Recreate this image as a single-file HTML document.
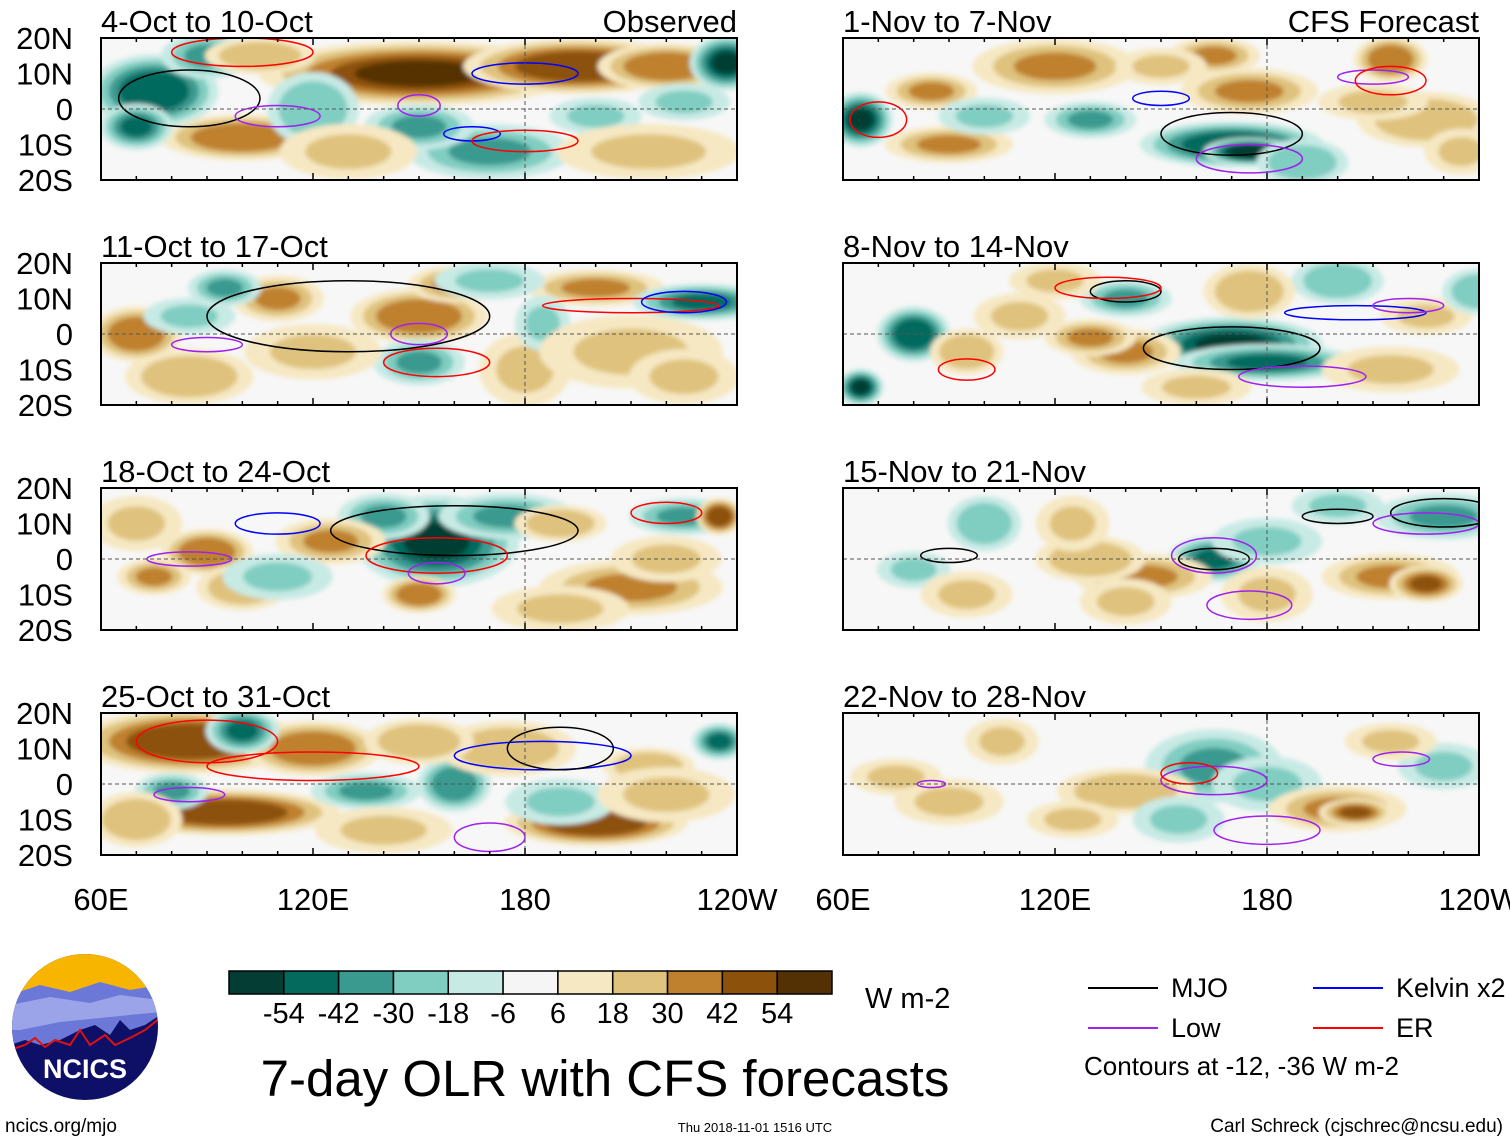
<!DOCTYPE html>
<html><head><meta charset="utf-8"><style>
body{margin:0;background:#fff;width:1510px;height:1142px;overflow:hidden;font-family:"Liberation Sans",sans-serif}
svg{position:absolute;left:0;top:0}
</style></head><body>
<svg id="s" width="1510" height="1142" viewBox="0 0 1510 1142">
<defs><filter id="bl" x="-20%" y="-20%" width="140%" height="140%"><feGaussianBlur stdDeviation="2.5"/></filter>
<clipPath id="cb"><circle cx="85" cy="1027" r="73"/></clipPath></defs>
</svg>
<script>
const NS='http://www.w3.org/2000/svg';
const svg=document.getElementById('s');
const levels=[-54,-42,-30,-18,-6,6,18,30,42,54];
const colors=['#033d33','#046a5e','#3a9a90','#80cdc1','#c7eae5','#f5f5f5','#f6e8c3','#dfc27d','#bf812d','#8c510a','#543005'];
const panelTitles=['4-Oct to 10-Oct','11-Oct to 17-Oct','18-Oct to 24-Oct','25-Oct to 31-Oct','1-Nov to 7-Nov','8-Nov to 14-Nov','15-Nov to 21-Nov','22-Nov to 28-Nov'];
const latTicks=[20,10,0,-10,-20];
const latLabels=['20N','10N','0','10S','20S'];
const lonTicks=[60,120,180,240];
const lonLabels=['60E','120E','180','120W'];
// anomaly blobs per panel: [lon, lat, halfwidthLon, halfwidthLat, value W m-2]
const blobs0=[[150,10,35,7,50],[195,12,25,6,45],[220,12,15,5,35],[100,-8,18,5,35],[75,5,14,8,-45],[70,-5,8,5,-40],[237,13,8,6,-50],[170,-12,18,6,-30],[150,-5,12,5,-25],[120,0,10,8,-20],[90,15,10,5,-25],[200,-2,10,4,-15],[130,-12,15,6,15],[215,-12,20,6,12],[225,2,10,4,-12],[105,15,12,4,20]];
const blobs1=[[70,0,10,6,35],[150,5,15,6,35],[160,14,10,4,30],[110,10,10,5,25],[200,13,15,4,25],[85,-12,14,6,20],[230,9,15,4,-40],[180,-10,10,8,15],[150,-8,10,5,-30],[95,13,8,4,-25],[185,3,6,6,-18],[120,-5,15,6,15],[210,-5,20,8,12],[85,5,10,4,-15],[225,-12,12,6,15],[170,15,12,4,-15]];
const blobs2=[[155,5,18,10,-50],[140,12,10,5,-30],[175,12,15,5,-25],[225,12,12,4,-30],[90,2,10,5,35],[125,5,12,5,30],[75,-5,8,4,25],[150,-10,8,4,35],[210,-8,20,6,25],[235,12,5,4,45],[100,-8,10,5,20],[190,10,10,4,20],[70,10,10,6,15],[110,-5,12,5,-15],[190,-14,15,5,15],[220,0,12,5,12]];
const blobs3=[[85,12,25,7,45],[120,10,15,6,35],[95,-8,25,5,45],[200,-11,20,5,45],[100,15,8,5,-40],[160,0,8,6,-35],[135,-2,12,4,-25],[80,-2,8,4,-30],[190,-5,12,5,-18],[235,12,6,4,-40],[175,10,15,6,20],[215,5,10,4,20],[70,-10,10,6,20],[140,-13,15,5,15],[220,-3,15,6,15],[150,12,12,5,20]];
const blobs4=[[65,-3,7,6,-54],[170,-10,20,5,-45],[175,-12,10,3,-55],[130,-3,10,4,-25],[90,-10,14,4,30],[120,12,18,6,30],[175,5,15,5,30],[215,14,8,5,35],[165,15,10,4,25],[225,-3,15,6,20],[85,5,10,4,25],[190,-15,10,5,-20],[100,-2,10,4,-18],[150,12,10,4,18],[210,2,12,4,15],[235,-12,8,5,15]];
const blobs5=[[80,0,8,6,-45],[170,-3,20,6,-50],[180,-8,20,4,-40],[65,-15,5,4,-50],[140,-5,12,5,30],[130,-1,10,4,25],[95,-5,8,5,20],[140,10,10,4,-25],[200,15,10,5,-20],[175,12,10,6,20],[225,5,10,4,15],[240,12,8,5,-20],[110,5,10,5,12],[120,15,10,4,15],[215,-10,15,5,12],[160,-15,12,4,15]];
const blobs6=[[165,0,10,5,-40],[145,-5,15,5,30],[130,0,12,5,20],[215,-5,15,5,30],[225,-7,8,4,40],[230,12,15,5,-25],[100,10,8,6,-20],[180,-10,10,6,15],[80,-3,8,4,-15],[125,10,8,6,15],[180,5,12,5,-15],[95,-10,10,5,12],[200,15,10,4,-12],[140,-12,10,5,15]];
const blobs7=[[165,5,15,8,-25],[180,0,12,6,-15],[200,-7,15,5,30],[205,-8,8,3,40],[140,-2,15,5,20],[90,-5,12,5,15],[230,5,10,5,-15],[105,12,8,5,15],[125,-10,10,4,15],[155,-10,10,5,-12],[215,12,10,4,12],[75,2,10,4,12]];
// index contours: [lon, lat, halfLon, halfLat, type]
const cont0=[[85,3,20,8,'MJO'],[180,10,15,3,'Kelvin'],[165,-7,8,2,'Kelvin'],[110,-2,12,3,'Low'],[150,1,6,3,'Low'],[180,-9,15,3,'ER'],[100,16,20,4,'ER']];
const cont1=[[130,5,40,10,'MJO'],[210,8,25,2,'ER'],[225,9,12,3,'Kelvin'],[155,-8,15,4,'ER'],[90,-3,10,2,'Low'],[150,0,8,3,'Low']];
const cont2=[[160,8,35,7,'MJO'],[110,10,12,3,'Kelvin'],[155,1,20,5,'ER'],[220,13,10,3,'ER'],[85,0,12,2,'Low'],[155,-4,8,3,'Low']];
const cont3=[[90,12,20,6,'ER'],[120,5,30,4,'ER'],[185,8,25,4,'Kelvin'],[190,10,15,6,'MJO'],[85,-3,10,2,'Low'],[170,-15,10,4,'Low']];
const cont4=[[170,-7,20,6,'MJO'],[70,-3,8,5,'ER'],[150,3,8,2,'Kelvin'],[210,9,10,2,'Low'],[215,8,10,4,'ER'],[175,-14,15,4,'Low']];
const cont5=[[170,-4,25,6,'MJO'],[140,12,10,3,'MJO'],[205,6,20,2,'Kelvin'],[95,-10,8,3,'ER'],[135,13,15,3,'ER'],[190,-12,18,3,'Low'],[220,8,10,2,'Low']];
const cont6=[[165,0,10,3,'MJO'],[200,12,10,2,'MJO'],[230,13,15,4,'MJO'],[225,10,15,3,'Low'],[175,-13,12,4,'Low'],[165,1,12,5,'Low'],[90,1,8,2,'MJO']];
const cont7=[[165,1,15,4,'Low'],[180,-13,15,4,'Low'],[158,3,8,3,'ER'],[218,7,8,2,'Low'],[85,0,4,1,'Low']];
const allBlobs=[blobs0,blobs1,blobs2,blobs3,blobs4,blobs5,blobs6,blobs7];
const allCont=[cont0,cont1,cont2,cont3,cont4,cont5,cont6,cont7];
const contColor={MJO:'#000',Kelvin:'#0000ff',Low:'#a020f0',ER:'#ff0000'};
const panelX=[101,843],panelY=[38,263,488,713],PW=636,PH=142;

function el(tag,attrs,parent){const e=document.createElementNS(NS,tag);for(const k in attrs)e.setAttribute(k,attrs[k]);(parent||svg).appendChild(e);return e;}
function colorFor(v){let i=0;while(i<levels.length&&v>levels[i])i++;return colors[i];}

for(let p=0;p<8;p++){
  const px=panelX[p<4?0:1],py=panelY[p%4];
  const xs=lon=>px+(lon-60)/180*PW, ys=lat=>py+(20-lat)/40*PH;
  const g=el('g',{});
  
  
  const cp=el('clipPath',{id:'c'+p},svg.querySelector('defs'));
  el('rect',{x:px,y:py,width:PW,height:PH},cp);
  el('rect',{x:px,y:py,width:PW,height:PH,fill:'#f7f7f7'},g);
  const fg=el('g',{'clip-path':'url(#c'+p+')'},g);
  const inner=el('g',{filter:'url(#bl)'},fg);
  allBlobs[p].forEach(b=>{
    const [lon,lat,rl,rb,v]=b;const sgn=Math.sign(v);
    const n=Math.max(1,Math.ceil((Math.abs(v)-6)/12));
    for(let k=0;k<=n;k++){
      const a=6+12*k; if(a>Math.abs(v)+6)break;
      const f=1.3*(1-k/(n+1)*0.75);
      const e=el('ellipse',{cx:xs(lon),cy:ys(lat),rx:rl*f*PW/180,ry:rb*f*PH/40,fill:colorFor(sgn*(a+1))},inner);
      
      
    }
  });
  allCont[p].forEach(c=>{
    const e=el('ellipse',{cx:xs(c[0]),cy:ys(c[1]),rx:c[2]*PW/180,ry:c[3]*PH/40,fill:'none',stroke:contColor[c[4]],'stroke-width':1.5},fg);
    
    
  });
  el('line',{x1:px,x2:px+PW,y1:ys(0),y2:ys(0),stroke:'#555','stroke-dasharray':'4,3','stroke-width':1},g);
  el('line',{x1:xs(180),x2:xs(180),y1:py,y2:py+PH,stroke:'#555','stroke-dasharray':'4,3','stroke-width':1},g);
  el('rect',{x:px,y:py,width:PW,height:PH,fill:'none',stroke:'#000','stroke-width':2},g);
  for(let l=60;l<=240;l+=10){const len=(l%60==0)?7:4;
    el('line',{x1:xs(l),x2:xs(l),y1:py,y2:py+len,stroke:'#000','stroke-width':1.5},g);
    el('line',{x1:xs(l),x2:xs(l),y1:py+PH,y2:py+PH-len,stroke:'#000','stroke-width':1.5},g);}
  const t=el('text',{x:px,y:py-6,'font-size':31,fill:'#000'},g);t.textContent=panelTitles[p];
  
  if(p==0||p==4){const r=el('text',{x:px+PW,y:py-6,'font-size':31,'text-anchor':'end'},g);r.textContent=p==0?'Observed':'CFS Forecast';}
  if(p<4){latTicks.forEach((lt,i)=>{const tt=el('text',{x:73,y:ys(lt)+11,'font-size':31,'text-anchor':'end'},g);tt.textContent=latLabels[i];
    });}
  if(p%4==3){lonTicks.forEach((ln,i)=>{const tt=el('text',{x:xs(ln),y:910,'font-size':31,'text-anchor':'middle'},g);tt.textContent=lonLabels[i];
    });}
}
// colorbar
const cbg=el('g',{});
const bw=(832-229)/11;
colors.forEach((c,i)=>el('rect',{x:229+i*bw,y:971,width:bw,height:23,fill:c,stroke:'#000','stroke-width':1.5},cbg));
levels.forEach((v,i)=>{const t=el('text',{x:229+(i+1)*bw,y:1023,'font-size':29,'text-anchor':'middle'},cbg);t.textContent=v;});
let t=el('text',{x:865,y:1008,'font-size':29});t.textContent='W m-2';
t=el('text',{x:605,y:1096,'font-size':51,'text-anchor':'middle'});t.textContent='7-day OLR with CFS forecasts';

t=el('text',{x:755,y:1132,'font-size':13,'text-anchor':'middle'});t.textContent='Thu 2018-11-01 1516 UTC';
t=el('text',{x:5,y:1132,'font-size':19});t.textContent='ncics.org/mjo';
t=el('text',{x:1503,y:1132,'font-size':19,'text-anchor':'end'});t.textContent='Carl Schreck (cjschrec@ncsu.edu)';
// legend
const lg=el('g',{});
[['MJO','#000',1088,988],['Kelvin x2','#0000ff',1313,988],['Low','#a020f0',1088,1028],['ER','#ff0000',1313,1028]].forEach(d=>{
  el('line',{x1:d[2],x2:d[2]+70,y1:d[3],y2:d[3],stroke:d[1],'stroke-width':2},lg);
  const tt=el('text',{x:d[2]+83,y:d[3]+9,'font-size':27},lg);tt.textContent=d[0];});
t=el('text',{x:1084,y:1075,'font-size':26},lg);t.textContent='Contours at -12, -36 W m-2';
// logo
const lo=el('g',{'clip-path':'url(#cb)'});
el('rect',{x:10,y:950,width:150,height:160,fill:'#0d1066'},lo);
el('rect',{x:10,y:950,width:150,height:45,fill:'#f7b500'},lo);
el('polygon',{points:'10,995 40,985 70,992 100,982 130,990 160,985 160,1015 145,1025 130,1030 120,1020 110,1035 95,1025 80,1030 60,1040 40,1045 25,1040 10,1045',fill:'#6b78d8'},lo);
el('polygon',{points:'10,1005 50,997 90,1003 120,995 160,1000 160,1012 100,1018 60,1022 20,1030 10,1030',fill:'#9ba4e8'},lo);
el('polyline',{points:'10,1050 25,1045 35,1038 45,1047 55,1040 70,1045 80,1030 90,1045 105,1035 115,1045 130,1038 145,1030 160,1018',fill:'none',stroke:'#e01010','stroke-width':2},lo);
t=el('text',{x:85,y:1078,'font-size':27,'font-weight':'bold',fill:'#fff','text-anchor':'middle'},lo);t.textContent='NCICS';
</script>
</body></html>
